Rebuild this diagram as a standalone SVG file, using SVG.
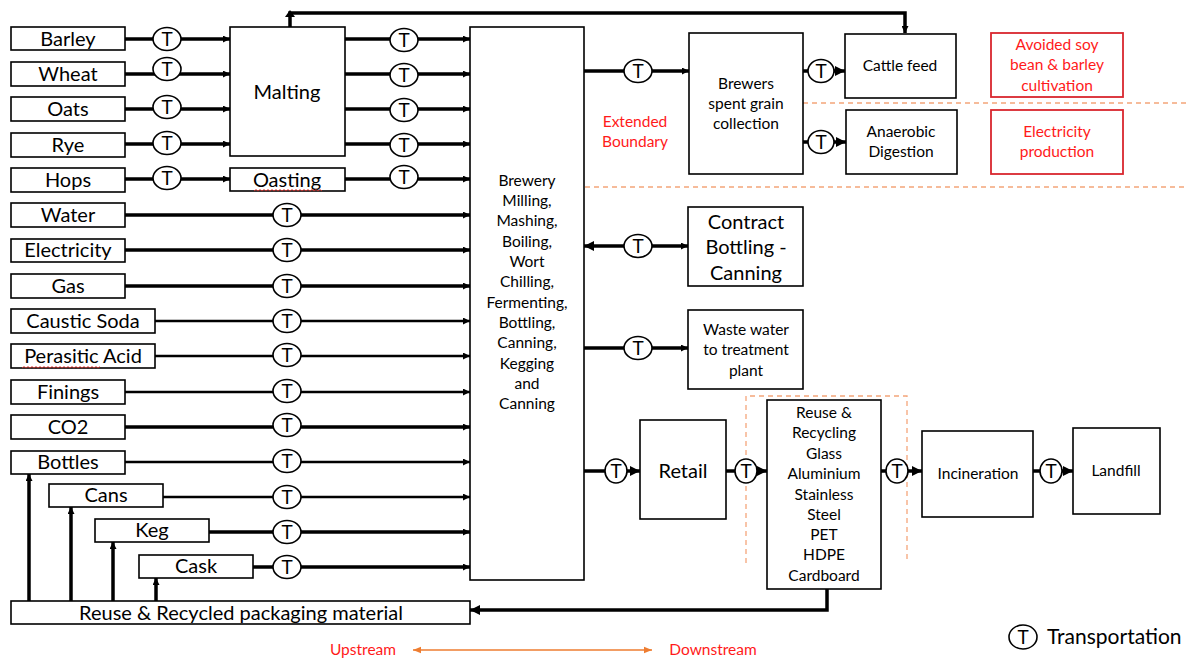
<svg xmlns="http://www.w3.org/2000/svg" width="1188" height="660" viewBox="0 0 1188 660">
<defs>
<style>
.box{fill:#fff;stroke:#000;stroke-width:1.6}
.rbox{fill:#fff;stroke:#d9262e;stroke-width:1.8}
.t{font-family:Lato,"Open Sans","Liberation Sans",sans-serif;fill:#000;text-anchor:middle}
.big{font-size:20px}
.sm{font-size:15.5px}
.red{fill:#ff1a1a}
.c{fill:none;stroke:#000;stroke-width:3.5}
.cth{fill:none;stroke:#000;stroke-width:2.6}
.tc{fill:#fff;stroke:#000;stroke-width:1.6}
.tt{font-family:Lato,"Open Sans","Liberation Sans",sans-serif;font-size:19px;text-anchor:middle;fill:#000}
.dash{fill:none;stroke:#f4a57a;stroke-width:1.3;stroke-dasharray:5 4}
.sq{fill:none;stroke:#e8332e;stroke-width:0.8}
</style>
<marker id="ah" viewBox="0 0 10 10" refX="10" refY="5" markerWidth="7" markerHeight="7" markerUnits="userSpaceOnUse" orient="auto-start-reverse"><path d="M0,0 L10,5 L0,10 z" fill="#000"/></marker>
<marker id="ahb" viewBox="0 0 10 10" refX="10" refY="5" markerWidth="10" markerHeight="10" markerUnits="userSpaceOnUse" orient="auto-start-reverse"><path d="M0,0 L10,5 L0,10 z" fill="#000"/></marker>
<marker id="ao" viewBox="0 0 10 10" refX="10" refY="5" markerWidth="8" markerHeight="8" markerUnits="userSpaceOnUse" orient="auto-start-reverse"><path d="M0,1 L10,5 L0,9 z" fill="#ee7d31"/></marker>
</defs>
<rect width="1188" height="660" fill="#fff"/>

<g id="boundaries">
<line class="dash" x1="803" y1="103" x2="1188" y2="103"/>
<line class="dash" x1="585" y1="187" x2="1188" y2="187"/>
<path class="dash" d="M746,563 V396 H907 V563"/>
</g>

<g id="connectors">
<line class="c" x1="125" y1="39" x2="230" y2="39" marker-end="url(#ah)"/>
<line class="c" x1="125" y1="74" x2="230" y2="74" marker-end="url(#ah)"/>
<line class="c" x1="125" y1="109" x2="230" y2="109" marker-end="url(#ah)"/>
<line class="c" x1="125" y1="144" x2="230" y2="144" marker-end="url(#ah)"/>
<line class="c" x1="125" y1="179" x2="230" y2="179" marker-end="url(#ah)"/>
<line class="c" x1="345" y1="39" x2="470" y2="39" marker-end="url(#ah)"/>
<line class="c" x1="345" y1="74" x2="470" y2="74" marker-end="url(#ah)"/>
<line class="c" x1="345" y1="109" x2="470" y2="109" marker-end="url(#ah)"/>
<line class="c" x1="345" y1="144" x2="470" y2="144" marker-end="url(#ah)"/>
<line class="c" x1="345" y1="179" x2="470" y2="179" marker-end="url(#ah)"/>
<line class="c" x1="125" y1="215" x2="470" y2="215" marker-end="url(#ah)"/>
<line class="c" x1="125" y1="250" x2="470" y2="250" marker-end="url(#ah)"/>
<line class="c" x1="125" y1="286" x2="470" y2="286" marker-end="url(#ah)"/>
<line class="cth" x1="155" y1="321" x2="470" y2="321" marker-end="url(#ah)"/>
<line class="cth" x1="155" y1="356" x2="470" y2="356" marker-end="url(#ah)"/>
<line class="cth" x1="125" y1="392" x2="470" y2="392" marker-end="url(#ah)"/>
<line class="c" x1="125" y1="427" x2="470" y2="427" marker-end="url(#ah)"/>
<line class="cth" x1="125" y1="462" x2="470" y2="462" marker-end="url(#ah)"/>
<line class="cth" x1="163" y1="497" x2="470" y2="497" marker-end="url(#ah)"/>
<line class="c" x1="209" y1="532" x2="470" y2="532" marker-end="url(#ah)"/>
<line class="c" x1="253" y1="567" x2="470" y2="567" marker-end="url(#ah)"/>
<line class="c" x1="29" y1="601" x2="29" y2="474" marker-end="url(#ah)"/>
<line class="c" x1="71" y1="601" x2="71" y2="507" marker-end="url(#ah)"/>
<line class="c" x1="113" y1="601" x2="113" y2="542" marker-end="url(#ah)"/>
<line class="c" x1="156" y1="601" x2="156" y2="578" marker-end="url(#ah)"/>
<path class="c" d="M290,27 V13 H905 V33" marker-end="url(#ah)"/>
<polygon points="285,17 295,17 290,10" fill="#000"/>
<line class="c" x1="584" y1="71" x2="689" y2="71" marker-end="url(#ah)"/>
<line class="c" x1="803" y1="71" x2="845" y2="71" marker-end="url(#ahb)"/>
<line class="c" x1="803" y1="142" x2="846" y2="142" marker-end="url(#ahb)"/>
<line class="c" x1="584" y1="246" x2="688" y2="246" marker-start="url(#ahb)" marker-end="url(#ah)"/>
<line class="c" x1="584" y1="348" x2="688" y2="348" marker-end="url(#ah)"/>
<line class="c" x1="584" y1="471" x2="640" y2="471" marker-end="url(#ahb)"/>
<line class="c" x1="726" y1="471" x2="767" y2="471" marker-end="url(#ahb)"/>
<line class="c" x1="881" y1="471" x2="922" y2="471" marker-end="url(#ahb)"/>
<line class="c" x1="1033" y1="471" x2="1073" y2="471" marker-end="url(#ahb)"/>
<path class="c" d="M827,589 V610 H470" stroke-width="4.5" marker-end="url(#ahb)"/>
<line x1="413" y1="650" x2="652" y2="650" stroke="#ee7d31" stroke-width="1.5" marker-start="url(#ao)" marker-end="url(#ao)"/>
</g>

<g id="transport">
<g class="tc">
<ellipse cx="167" cy="39" rx="14" ry="11.5"/>
<ellipse cx="167" cy="69" rx="14" ry="11.5"/>
<ellipse cx="167" cy="107" rx="14" ry="11.5"/>
<ellipse cx="167" cy="143" rx="14" ry="11.5"/>
<ellipse cx="167" cy="178" rx="14" ry="11.5"/>
<ellipse cx="404" cy="40" rx="14" ry="11.5"/>
<ellipse cx="404" cy="75" rx="14" ry="11.5"/>
<ellipse cx="404" cy="110" rx="14" ry="11.5"/>
<ellipse cx="404" cy="145" rx="14" ry="11.5"/>
<ellipse cx="404" cy="177" rx="14" ry="11.5"/>
<ellipse cx="287" cy="215" rx="14" ry="11.5"/>
<ellipse cx="287" cy="250" rx="14" ry="11.5"/>
<ellipse cx="287" cy="286" rx="14" ry="11.5"/>
<ellipse cx="287" cy="321" rx="14" ry="11.5"/>
<ellipse cx="287" cy="355" rx="14" ry="11.5"/>
<ellipse cx="287" cy="391" rx="14" ry="11.5"/>
<ellipse cx="287" cy="425" rx="14" ry="11.5"/>
<ellipse cx="287" cy="461" rx="14" ry="11.5"/>
<ellipse cx="287" cy="497" rx="14" ry="11.5"/>
<ellipse cx="287" cy="532" rx="14" ry="11.5"/>
<ellipse cx="287" cy="567" rx="14" ry="11.5"/>
<ellipse cx="638" cy="71" rx="14" ry="11.5"/>
<ellipse cx="821" cy="71" rx="13" ry="11.5"/>
<ellipse cx="821" cy="142" rx="13" ry="11.5"/>
<ellipse cx="638" cy="246" rx="14" ry="11.5"/>
<ellipse cx="638" cy="348" rx="14" ry="11.5"/>
<ellipse cx="616" cy="471" rx="11" ry="12"/>
<ellipse cx="746" cy="471" rx="11" ry="12"/>
<ellipse cx="897" cy="471" rx="11" ry="12"/>
<ellipse cx="1051" cy="471" rx="11" ry="12"/>
<ellipse cx="1023" cy="637" rx="14" ry="12"/>
</g>
<g class="tt">
<text x="167" y="46">T</text>
<text x="167" y="76">T</text>
<text x="167" y="114">T</text>
<text x="167" y="150">T</text>
<text x="167" y="185">T</text>
<text x="404" y="47">T</text>
<text x="404" y="82">T</text>
<text x="404" y="117">T</text>
<text x="404" y="152">T</text>
<text x="404" y="184">T</text>
<text x="287" y="222">T</text>
<text x="287" y="257">T</text>
<text x="287" y="293">T</text>
<text x="287" y="328">T</text>
<text x="287" y="362">T</text>
<text x="287" y="398">T</text>
<text x="287" y="432">T</text>
<text x="287" y="468">T</text>
<text x="287" y="504">T</text>
<text x="287" y="539">T</text>
<text x="287" y="574">T</text>
<text x="638" y="78">T</text>
<text x="821" y="78">T</text>
<text x="821" y="149">T</text>
<text x="638" y="253">T</text>
<text x="638" y="355">T</text>
<text x="616" y="478">T</text>
<text x="746" y="478">T</text>
<text x="897" y="478">T</text>
<text x="1051" y="478">T</text>
<text x="1023" y="644">T</text>
</g>
</g>

<g id="barley"><rect class="box" x="11" y="27" width="114" height="23"/><text class="t big" x="68" y="46">Barley</text></g>
<g id="wheat"><rect class="box" x="11" y="62" width="114" height="24"/><text class="t big" x="68" y="81">Wheat</text></g>
<g id="oats"><rect class="box" x="11" y="97" width="114" height="24"/><text class="t big" x="68" y="116">Oats</text></g>
<g id="rye"><rect class="box" x="11" y="133" width="114" height="24"/><text class="t big" x="68" y="152">Rye</text></g>
<g id="hops"><rect class="box" x="11" y="168" width="114" height="24"/><text class="t big" x="68" y="187">Hops</text></g>
<g id="water"><rect class="box" x="11" y="203" width="114" height="24"/><text class="t big" x="68" y="222">Water</text></g>
<g id="electricity"><rect class="box" x="11" y="239" width="114" height="23"/><text class="t big" x="68" y="257">Electricity</text></g>
<g id="gas"><rect class="box" x="11" y="274" width="114" height="24"/><text class="t big" x="68" y="293">Gas</text></g>
<g id="caustic"><rect class="box" x="11" y="309" width="144" height="24"/><text class="t big" x="83" y="328">Caustic Soda</text></g>
<g id="perasitic"><rect class="box" x="11" y="344" width="144" height="24"/><text class="t big" x="83" y="363">Perasitic Acid</text><path class="sq" d="M22,368 l2,-1.5 2,1.5 2,-1.5 2,1.5 2,-1.5 2,1.5 2,-1.5 2,1.5 2,-1.5 2,1.5 2,-1.5 2,1.5 2,-1.5 2,1.5 2,-1.5 2,1.5 2,-1.5 2,1.5 2,-1.5 2,1.5 2,-1.5 2,1.5 2,-1.5 2,1.5 2,-1.5 2,1.5 2,-1.5 2,1.5 2,-1.5 2,1.5 2,-1.5 2,1.5 2,-1.5 2,1.5 2,-1.5 2,1.5 2,-1.5 2,1.5 2,-1.5"/></g>
<g id="finings"><rect class="box" x="11" y="380" width="114" height="24"/><text class="t big" x="68" y="399">Finings</text></g>
<g id="co2"><rect class="box" x="11" y="415" width="114" height="24"/><text class="t big" x="68" y="434">CO2</text></g>
<g id="bottles"><rect class="box" x="11" y="451" width="114" height="23"/><text class="t big" x="68" y="469">Bottles</text></g>
<g id="cans"><rect class="box" x="49" y="484" width="114" height="23"/><text class="t big" x="106" y="502">Cans</text></g>
<g id="keg"><rect class="box" x="95" y="519" width="114" height="23"/><text class="t big" x="152" y="537">Keg</text></g>
<g id="cask"><rect class="box" x="139" y="555" width="114" height="23"/><text class="t big" x="196" y="573">Cask</text></g>
<g id="packaging"><rect class="box" x="11" y="601" width="459" height="23"/><text class="t big" x="241" y="620">Reuse &amp; Recycled packaging material</text></g>

<g id="malting"><rect class="box" x="230" y="27" width="115" height="129"/><text class="t big" x="287" y="99">Malting</text></g>
<g id="oasting"><rect class="box" x="230" y="168" width="115" height="23"/><text class="t big" x="287" y="187">Oasting</text><path class="sq" d="M254,191 l2,-1.5 2,1.5 2,-1.5 2,1.5 2,-1.5 2,1.5 2,-1.5 2,1.5 2,-1.5 2,1.5 2,-1.5 2,1.5 2,-1.5 2,1.5 2,-1.5 2,1.5 2,-1.5 2,1.5 2,-1.5 2,1.5 2,-1.5 2,1.5 2,-1.5 2,1.5 2,-1.5 2,1.5 2,-1.5 2,1.5 2,-1.5 2,1.5 2,-1.5 2,1.5 2,-1.5 2,1.5"/></g>
<g id="brewery"><rect class="box" x="470" y="27" width="114" height="553"/>
<text class="t sm">
<tspan x="527" y="186">Brewery</tspan><tspan x="527" y="206">Milling,</tspan><tspan x="527" y="226">Mashing,</tspan><tspan x="527" y="247">Boiling,</tspan><tspan x="527" y="267">Wort</tspan><tspan x="527" y="287">Chilling,</tspan><tspan x="527" y="308">Fermenting,</tspan><tspan x="527" y="328">Bottling,</tspan><tspan x="527" y="348">Canning,</tspan><tspan x="527" y="369">Kegging</tspan><tspan x="527" y="389">and</tspan><tspan x="527" y="409">Canning</tspan>
</text></g>

<g id="spentgrain"><rect class="box" x="689" y="33" width="114" height="141"/>
<text class="t sm"><tspan x="746" y="89">Brewers</tspan><tspan x="746" y="109">spent grain</tspan><tspan x="746" y="129">collection</tspan></text></g>
<g id="cattlefeed"><rect class="box" x="845" y="34" width="111" height="64"/><text class="t sm" x="900" y="71">Cattle feed</text></g>
<g id="anaerobic"><rect class="box" x="846" y="110" width="111" height="64"/>
<text class="t sm"><tspan x="901" y="137">Anaerobic</tspan><tspan x="901" y="157">Digestion</tspan></text></g>
<g id="avoided"><rect class="rbox" x="991" y="33" width="132" height="64"/>
<text class="t sm red"><tspan x="1057" y="50">Avoided soy</tspan><tspan x="1057" y="70">bean &amp; barley</tspan><tspan x="1057" y="91">cultivation</tspan></text></g>
<g id="elecprod"><rect class="rbox" x="991" y="110" width="132" height="64"/>
<text class="t sm red"><tspan x="1057" y="137">Electricity</tspan><tspan x="1057" y="157">production</tspan></text></g>
<g id="extended"><text class="t sm red"><tspan x="635" y="127">Extended</tspan><tspan x="635" y="147">Boundary</tspan></text></g>

<g id="contract"><rect class="box" x="688" y="207" width="115" height="79"/>
<text class="t big"><tspan x="746" y="229">Contract</tspan><tspan x="746" y="254">Bottling -</tspan><tspan x="746" y="280">Canning</tspan></text></g>
<g id="wastewater"><rect class="box" x="688" y="310" width="115" height="79"/>
<text class="t sm"><tspan x="746" y="335">Waste water</tspan><tspan x="746" y="355">to treatment</tspan><tspan x="746" y="376">plant</tspan></text></g>

<g id="retail"><rect class="box" x="640" y="420" width="86" height="99"/><text class="t big" x="683" y="478">Retail</text></g>
<g id="recycling"><rect class="box" x="767" y="400" width="114" height="189"/>
<text class="t sm"><tspan x="824" y="418">Reuse &amp;</tspan><tspan x="824" y="438">Recycling</tspan><tspan x="824" y="459">Glass</tspan><tspan x="824" y="479">Aluminium</tspan><tspan x="824" y="500">Stainless</tspan><tspan x="824" y="520">Steel</tspan><tspan x="824" y="540">PET</tspan><tspan x="824" y="560">HDPE</tspan><tspan x="824" y="581">Cardboard</tspan></text></g>
<g id="incineration"><rect class="box" x="922" y="431" width="111" height="86"/><text class="t sm" x="978" y="479">Incineration</text></g>
<g id="landfill"><rect class="box" x="1073" y="428" width="87" height="86"/><text class="t sm" x="1116" y="476">Landfill</text></g>

<g id="legend">
<text class="t sm red" x="363" y="655" font-size="16">Upstream</text>
<text class="t sm red" x="713" y="655" font-size="16">Downstream</text>
<text x="1047" y="644" font-family="Lato,'Open Sans','Liberation Sans',sans-serif" font-size="21">Transportation</text>
</g>
</svg>
